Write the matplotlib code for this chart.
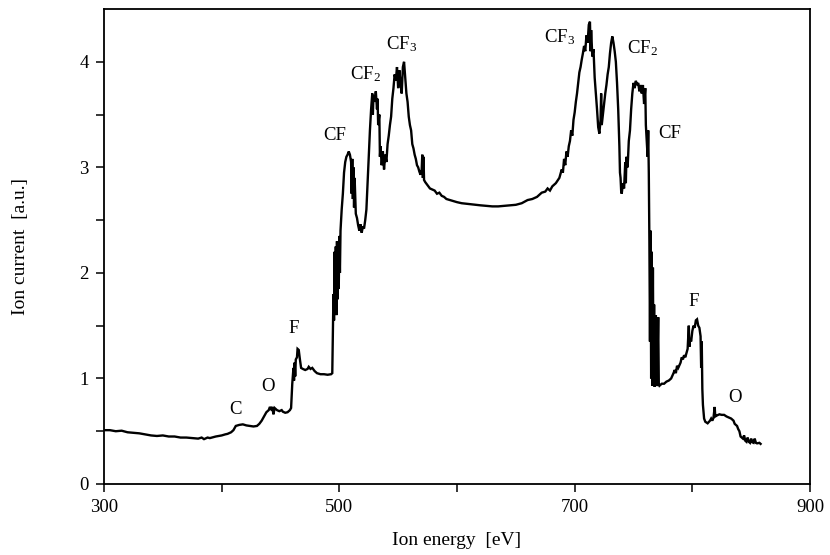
import matplotlib
matplotlib.use("Agg")
import matplotlib.pyplot as plt

plt.rcParams["font.family"] = ["Liberation Serif", "DejaVu Serif"]
plt.rcParams["mathtext.fontset"] = "stix"

# Ion energy spectrum (eV) and ion current (a.u.)
energy = [
    300, 305, 310, 315, 320, 325, 330, 335, 340, 345, 350, 355, 360, 365, 370,
    375, 380, 383, 385, 388, 390, 395, 400, 403, 405, 408, 410, 412, 415, 418,
    421, 424, 427, 430, 432, 434, 436, 438, 440, 441, 442, 443, 444, 445, 447,
    449, 451, 452, 454, 456, 458, 459, 460, 461, 461.5, 462, 462.5, 463, 464,
    464.5, 465.5, 466.5, 467.5, 469, 471, 473, 474, 475.5, 477, 479, 481, 484,
    487, 490, 493, 494, 494.5, 495, 495.5, 496, 496.5, 497, 497.5, 498, 498.5,
    499, 499.5, 500, 500.5, 501, 502, 503, 504, 505, 506, 507, 508, 509, 510,
    510.5, 511, 511.5, 512, 512.5, 513, 514, 515, 516, 517, 518, 519, 520, 521,
    522, 523, 524, 525, 526, 527, 528, 528.5, 529, 530, 531, 532, 532.5, 533,
    534, 534.5, 535, 536, 537, 538, 539, 540, 541, 542, 543, 544, 545, 546, 547,
    548, 549, 550, 551, 552, 553, 554, 555, 556, 557, 558, 559, 560, 561, 562,
    563, 564, 565, 566, 567, 568, 569, 570, 570.5, 571, 571.5, 572, 573, 575,
    577, 579, 581, 583, 585, 587, 589, 591, 594, 597, 600, 604, 608, 612, 616,
    620, 625, 630, 635, 640, 645, 650, 655, 660, 664, 668, 672, 675, 677, 679,
    681, 684, 687, 689, 690, 691, 692, 693, 694, 695, 696, 697, 698, 699, 700,
    701, 702, 703, 704, 705, 706, 707, 708, 709, 710, 711, 712, 713, 713.5, 714,
    715, 716, 717, 718, 719, 720, 721, 722, 722.5, 723, 724, 725, 726, 727, 728,
    729, 730, 731, 732, 733, 734, 735, 736, 737, 738, 738.5, 739, 739.5, 740,
    741, 742, 743, 743.5, 744, 745, 746, 747, 748, 749, 750, 751, 752, 753, 754,
    755, 756, 757, 758, 759, 760, 760.5, 761, 762, 762.5, 763, 763.5, 764,
    764.5, 765, 765.5, 766, 766.5, 767, 767.5, 768, 769, 769.5, 770, 771,
    771.5, 772, 774, 776, 778, 780, 782, 784, 785, 786, 787, 788, 790, 791, 792,
    793, 794, 795, 796, 797, 797.5, 798, 799, 800, 801, 802, 803, 804, 805, 806,
    807, 807.5, 808, 808.5, 809, 810, 811, 813, 815, 816, 817, 818, 819, 819.5,
    821, 823, 825, 827, 829, 831, 833, 835, 836, 838, 839, 840, 841, 842, 843,
    844, 845, 846, 847, 848, 849, 850, 851, 852, 853, 854, 855, 857, 858,
]
current = [
    0.51, 0.51, 0.50, 0.505, 0.49, 0.485, 0.48, 0.47, 0.46, 0.455, 0.46, 0.45,
    0.45, 0.44, 0.44, 0.435, 0.43, 0.44, 0.425, 0.44, 0.435, 0.45, 0.46, 0.47,
    0.475, 0.49, 0.51, 0.55, 0.56, 0.565, 0.555, 0.55, 0.545, 0.55, 0.57, 0.60,
    0.64, 0.68, 0.70, 0.73, 0.71, 0.73, 0.66, 0.72, 0.70, 0.69, 0.70, 0.685,
    0.675, 0.68, 0.70, 0.72, 0.95, 1.10, 0.98, 1.15, 1.02, 1.18, 1.20, 1.28,
    1.27, 1.18, 1.10, 1.09, 1.08, 1.09, 1.11, 1.09, 1.10, 1.07, 1.05, 1.04,
    1.04, 1.035, 1.04, 1.05, 1.40, 1.80, 1.55, 2.20, 1.70, 2.25, 1.60, 2.30,
    1.75, 2.25, 1.85, 2.35, 2.00, 2.40, 2.60, 2.75, 2.95, 3.05, 3.10, 3.12,
    3.15, 3.12, 3.05, 2.75, 3.08, 2.70, 3.00, 2.62, 2.90, 2.56, 2.52, 2.45,
    2.40, 2.46, 2.38, 2.44, 2.42, 2.50, 2.60, 2.85, 3.10, 3.35, 3.55, 3.70,
    3.50, 3.68, 3.62, 3.72, 3.55, 3.65, 3.40, 3.50, 3.10, 3.20, 3.02, 3.15,
    2.98, 3.12, 3.05, 3.22, 3.30, 3.40, 3.48, 3.65, 3.75, 3.88, 3.82, 3.95,
    3.75, 3.92, 3.80, 3.70, 3.95, 4.00, 3.85, 3.70, 3.62, 3.48, 3.40, 3.35,
    3.22, 3.18, 3.12, 3.08, 3.02, 3.00, 2.96, 2.93, 2.98, 3.12, 2.90, 3.10,
    2.88, 2.86, 2.83, 2.80, 2.79, 2.78, 2.75, 2.76, 2.73, 2.72, 2.70, 2.69,
    2.68, 2.67, 2.66, 2.655, 2.65, 2.645, 2.64, 2.635, 2.63, 2.63, 2.635, 2.64,
    2.645, 2.66, 2.69, 2.70, 2.72, 2.76, 2.77, 2.80, 2.78, 2.82, 2.85, 2.90,
    2.98, 2.95, 3.08, 3.02, 3.15, 3.10, 3.20, 3.25, 3.35, 3.30, 3.45, 3.52,
    3.62, 3.70, 3.80, 3.90, 3.95, 4.02, 4.08, 4.15, 4.10, 4.25, 4.18, 4.35,
    4.38, 4.10, 4.30, 4.05, 4.12, 3.85, 3.70, 3.55, 3.38, 3.32, 3.45, 3.70,
    3.40, 3.50, 3.60, 3.70, 3.78, 3.88, 3.95, 4.08, 4.18, 4.24, 4.18, 4.10,
    4.00, 3.80, 3.55, 3.20, 2.95, 2.90, 2.78, 2.75, 2.85, 2.80, 3.05, 2.85,
    3.10, 3.00, 3.25, 3.35, 3.55, 3.70, 3.80, 3.75, 3.82, 3.78, 3.80, 3.72,
    3.78, 3.70, 3.78, 3.60, 3.75, 3.40, 3.30, 3.10, 3.35, 2.95, 2.30, 1.35,
    2.40, 1.00, 2.20, 0.93, 2.05, 0.95, 1.70, 0.92, 1.60, 0.93, 0.94, 1.58,
    0.94, 0.93, 0.95, 0.95, 0.97, 0.98, 1.00, 1.05, 1.08, 1.05, 1.12, 1.10,
    1.15, 1.20, 1.18, 1.22, 1.20, 1.24, 1.28, 1.50, 1.30, 1.38, 1.35, 1.45,
    1.50, 1.48, 1.55, 1.56, 1.50, 1.48, 1.40, 1.10, 1.35, 0.90, 0.75, 0.62,
    0.59, 0.575, 0.60, 0.62, 0.60, 0.63, 0.73, 0.64, 0.65, 0.66, 0.655, 0.655,
    0.64, 0.63, 0.62, 0.60, 0.57, 0.55, 0.52, 0.50, 0.45, 0.44, 0.43, 0.46,
    0.41, 0.40, 0.44, 0.40, 0.39, 0.43, 0.395, 0.39, 0.43, 0.39, 0.385, 0.39,
    0.38,
]

# Peak assignments: label text, energy, current
peak_labels = ["C", "O", "F", "CF", r"CF$_\mathregular{2}$", r"CF$_\mathregular{3}$",
               r"CF$_\mathregular{3}$", r"CF$_\mathregular{2}$", "CF", "F", "O"]
peak_x = [412, 439, 461, 496, 522, 553, 687, 758, 781, 801.5, 836]
peak_y = [0.71, 0.92, 1.47, 3.30, 3.88, 4.17, 4.23, 4.13, 3.32, 1.73, 0.82]

x_ticks = [300, 400, 500, 600, 700, 800, 900]
x_ticklabels = ["300", "", "500", "", "700", "", "900"]
y_ticks = [0, 0.5, 1, 1.5, 2, 2.5, 3, 3.5, 4]
y_ticklabels = ["0", "", "1", "", "2", "", "3", "", "4"]

fig = plt.figure(figsize=(8.3, 5.55), dpi=100)
ax = fig.add_axes([104 / 830, 1 - 484 / 555, (810 - 104) / 830, (484 - 9) / 555])

ax.plot(energy, current, color="black", lw=1.7, solid_joinstyle="miter")

for txt, px, py in zip(peak_labels, peak_x, peak_y):
    ax.text(px, py, txt, ha="center", va="center", fontsize=13.5, color="black")

ax.set_xlim(300, 900)
ax.set_ylim(0, 4.5)
ax.set_xticks(x_ticks)
ax.set_xticklabels(x_ticklabels)
ax.set_yticks(y_ticks)
ax.set_yticklabels(y_ticklabels)
ax.tick_params(direction="out", length=6, width=1.1, labelsize=13.5, pad=5)
for sp in ax.spines.values():
    sp.set_linewidth(1.3)

ax.set_xlabel("Ion energy  [eV]", fontsize=14, labelpad=11)
ax.set_ylabel("Ion current  [a.u.]", fontsize=14, labelpad=36)

fig.savefig("out.png", dpi=100)
